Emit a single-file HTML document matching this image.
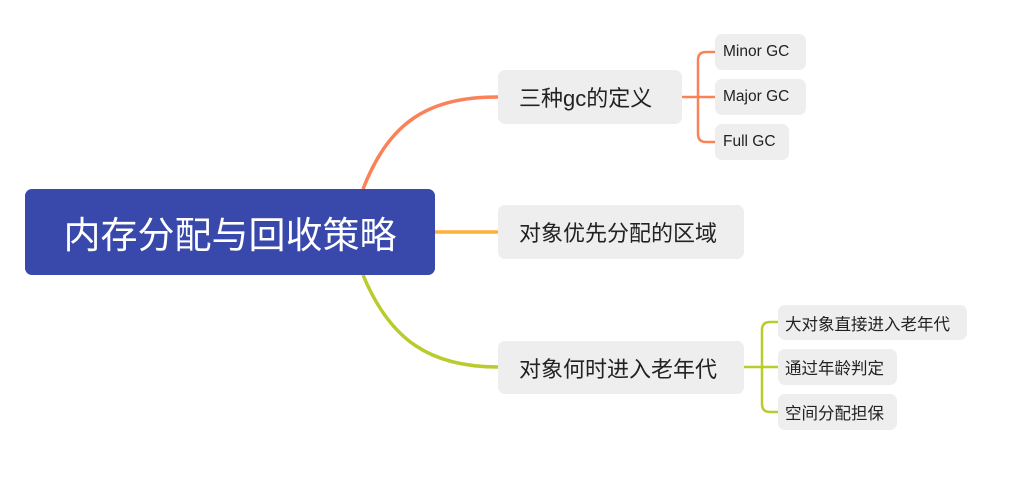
<!DOCTYPE html>
<html><head><meta charset="utf-8"><style>
body{margin:0;width:1023px;height:477px;background:#fff;position:relative;overflow:hidden;font-family:"Liberation Sans","Noto Sans CJK SC",sans-serif;}
.n{position:absolute;background:#eeeeee;border-radius:7px;color:#222;display:flex;align-items:center;justify-content:flex-start;white-space:nowrap;box-sizing:border-box;}
.b{font-size:22px;padding-left:21px;}
.c{font-size:16.5px;padding-left:7px;}
.e{font-size:15.5px;padding-left:8px;}
#root{position:absolute;left:25px;top:189px;width:410px;height:86px;background:#3949ab;border-radius:7px;color:#fff;font-size:37px;display:flex;align-items:center;justify-content:center;}
svg{position:absolute;left:0;top:0;}
</style></head><body>
<svg width="1023" height="477">
<path d="M363 189 C390 120 430 97 498 97" stroke="#fb8158" stroke-width="3.5" fill="none"/>
<path d="M435 232 H498" stroke="#ffae3c" stroke-width="3.5" fill="none"/>
<path d="M363 275 C390 340 430 367 498 367" stroke="#b9cb2d" stroke-width="3.5" fill="none"/>
<path d="M682 97 H715 M715 52 H706 Q698 52 698 60 V134 Q698 142 706 142 H715" stroke="#fb8158" stroke-width="2.5" fill="none"/>
<path d="M744 367 H778 M778 322 H770 Q762 322 762 330 V404 Q762 412 770 412 H778" stroke="#b9cb2d" stroke-width="2.5" fill="none"/>
</svg>
<div id="root">内存分配与回收策略</div>
<div class="n b" style="left:498px;top:70px;width:184px;height:54px">三种gc的定义</div>
<div class="n b" style="left:498px;top:205px;width:246px;height:54px">对象优先分配的区域</div>
<div class="n b" style="left:498px;top:341px;width:246px;height:53px">对象何时进入老年代</div>
<div class="n e" style="left:715px;top:34px;width:91px;height:36px">Minor GC</div>
<div class="n e" style="left:715px;top:79px;width:91px;height:36px">Major GC</div>
<div class="n e" style="left:715px;top:124px;width:74px;height:36px">Full GC</div>
<div class="n c" style="left:778px;top:305px;width:189px;height:35px">大对象直接进入老年代</div>
<div class="n c" style="left:778px;top:349px;width:119px;height:36px">通过年龄判定</div>
<div class="n c" style="left:778px;top:394px;width:119px;height:36px">空间分配担保</div>
</body></html>
